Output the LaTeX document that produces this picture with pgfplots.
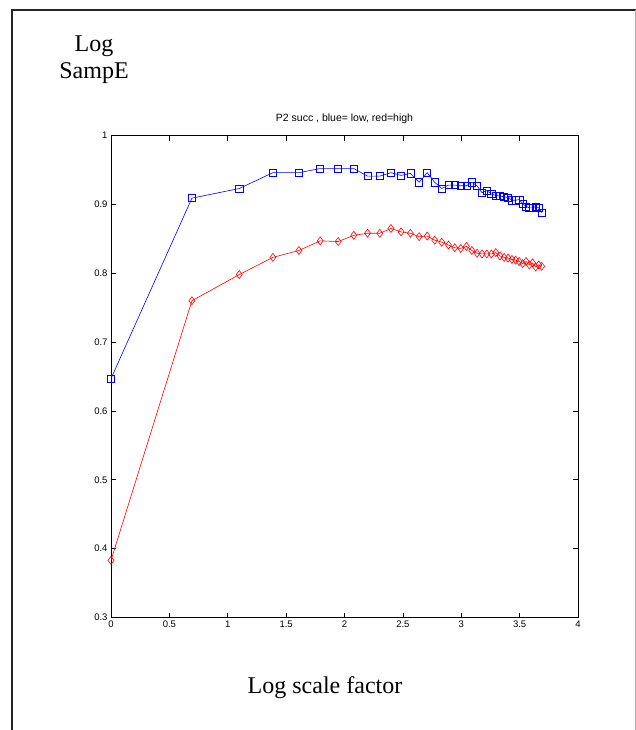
\documentclass[border=0pt]{standalone}
\usepackage{pgfplots}
\usepackage{pgfplotstable}
\pgfplotsset{compat=1.18}
\usepackage{fontspec}
\setmainfont{Liberation Serif}
\newfontfamily\helv{Liberation Sans}

% x = log(n), n = 1..40
\pgfplotstableread{
x      low    high
0.0000 0.647  0.383
0.6931 0.909  0.760
1.0986 0.923  0.798
1.3863 0.946  0.823
1.6094 0.946  0.833
1.7918 0.952  0.847
1.9459 0.952  0.846
2.0794 0.952  0.855
2.1972 0.941  0.858
2.3026 0.941  0.858
2.3979 0.946  0.865
2.4849 0.942  0.860
2.5649 0.945  0.858
2.6391 0.932  0.853
2.7081 0.946  0.854
2.7726 0.932  0.848
2.8332 0.923  0.845
2.8904 0.928  0.841
2.9444 0.928  0.837
2.9957 0.927  0.836
3.0445 0.927  0.839
3.0910 0.932  0.833
3.1355 0.927  0.829
3.1781 0.917  0.828
3.2189 0.920  0.828
3.2581 0.915  0.828
3.2958 0.913  0.830
3.3322 0.912  0.825
3.3673 0.911  0.823
3.4012 0.910  0.822
3.4340 0.906  0.820
3.4657 0.906  0.819
3.4965 0.907  0.817
3.5264 0.901  0.814
3.5553 0.897  0.817
3.5835 0.895  0.812
3.6109 0.895  0.815
3.6376 0.897  0.809
3.6636 0.895  0.812
3.6889 0.888  0.810
}\sampe

\begin{document}
\begin{tikzpicture}
\useasboundingbox (0,0) rectangle (636pt,-730pt);
% page frame
\draw[line width=1.6pt, black!85] (12pt,-740pt) -- (12pt,-10pt) -- (640pt,-10pt);
\draw[line width=0.8pt, black!30] (635pt,-10pt) -- (635pt,-740pt);

\begin{axis}[
    at={(111pt,-617.5pt)}, anchor=south west,
    scale only axis, width=467pt, height=482pt,
    xmin=0, xmax=4, ymin=0.3, ymax=1,
    xtick={0,0.5,1,1.5,2,2.5,3,3.5,4},
    ytick={0.3,0.4,0.5,0.6,0.7,0.8,0.9,1},
    tick align=inside, major tick length=5pt,
    axis line style={line width=0.9pt},
    tick style={black, line width=0.6pt},
    tick label style={font=\helv\fontsize{9.5}{11}\selectfont},
    /pgf/number format/assume math mode=true,
    title={P2 succ , blue= low, red=high},
    title style={font=\helv\fontsize{10.5}{12}\selectfont,
        at={(0.5,1)}, anchor=base, yshift=8pt},
]
\addplot[color=blue, line width=0.6pt, mark=square, mark size=3.6pt,
    mark options={solid}] table[x=x, y=low] {\sampe};
\addplot[color=red, line width=0.6pt, mark=diamond, mark size=4pt,
    mark options={solid}] table[x=x, y=high] {\sampe};
\end{axis}

\node[font=\fontsize{24}{26}\selectfont, anchor=base] at (94pt,-52pt) {Log};
\node[font=\fontsize{24}{26}\selectfont, anchor=base] at (94pt,-78.5pt) {SampE};
\node[font=\fontsize{24}{26}\selectfont, anchor=base] at (325pt,-693pt) {Log scale factor};
\end{tikzpicture}
\end{document}
